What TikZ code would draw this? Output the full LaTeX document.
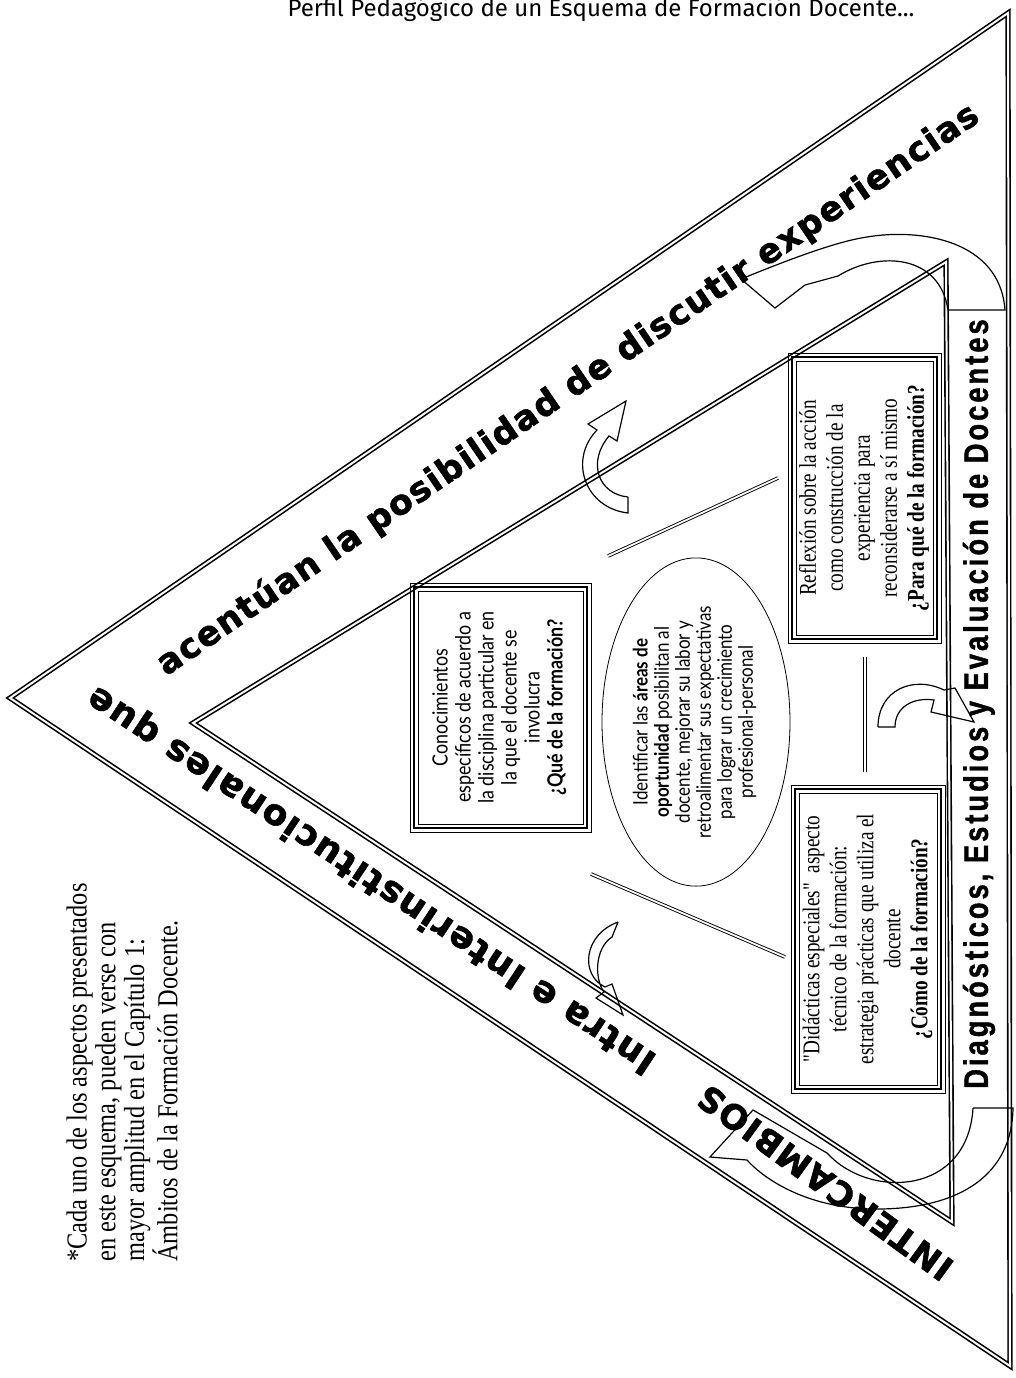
\documentclass[tikz,border=0pt]{standalone}
\usepackage{fontspec}
\setmainfont{Liberation Serif}
\newfontfamily\bandfont[LetterSpace=4,BoldFeatures={FakeBold=1.6}]{DejaVu Sans}
\newfontfamily\rbandfont[FakeStretch=0.8,LetterSpace=9,BoldFeatures={FakeBold=1.2}]{Liberation Sans}
\newfontfamily\twfont[FakeStretch=0.85]{Lato}
\newfontfamily\narrowserif[FakeStretch=0.8]{Liberation Serif}
\newfontfamily\notefont[FakeStretch=0.84]{Liberation Serif}
\newfontfamily\headfont{Fira Sans}
\usetikzlibrary{shapes.geometric,calc}
\newcommand\tripleframe[1]{%
  \draw[line width=0.35pt] (#1.south west) rectangle (#1.north east);
  \draw[line width=1.3pt] ($(#1.south west)+(4,-4)$) rectangle ($(#1.north east)+(-4,4)$);
  \draw[line width=0.35pt] ($(#1.south west)+(8,-8)$) rectangle ($(#1.north east)+(-8,8)$);}
\tikzset{
  bandline/.style={line width=0.8pt, double, double distance=1pt, line join=miter},
  pairline/.style={line width=0.45pt, double, double distance=0.9pt},
  blockarrow/.style={line width=0.6pt, line join=miter},
  infobox/.style={inner sep=0pt, outer sep=0pt},
  topbandtext/.style={font=\bandfont\bfseries\fontsize{17.2}{20}\selectfont},
  botbandtext/.style={font=\bandfont\bfseries\fontsize{18}{20}\selectfont},
  interctext/.style={font=\bandfont\bfseries\fontsize{17}{20}\selectfont},
  rightbandtext/.style={font=\rbandfont\bfseries\fontsize{17}{20}\selectfont},
}
\begin{document}
\begin{tikzpicture}[x=0.5pt,y=-0.5pt]
\useasboundingbox (0,0) rectangle (1016,1378);

% header
\node[font=\headfont\fontsize{12}{14}\selectfont, anchor=base] (header) at (601,16)
  {Perfil Pedagógico de un Esquema de Formación Docente...};

% outer and inner triangles
\coordinate (A) at (10,698);
\coordinate (B) at (1008,13);
\coordinate (C) at (1010,1366);
\coordinate (D) at (193,723);
\coordinate (E) at (946,262);
\coordinate (F) at (952,1222);
\draw[bandline] (A) -- (B) -- (C) -- cycle;
\draw[bandline] (D) -- (E) -- (F) -- cycle;

% band texts
\node[topbandtext, rotate=34.3] (topband) at (568,390)
  {acentúan la posibilidad de discutir experiencias};
\node[botbandtext, rotate=146.6] (botband) at (372,879)
  {Intra e Interinstitucionales que};
\node[interctext, rotate=144] (intercambios) at (825,1183) {INTERCAMBIOS};
\node[rightbandtext, rotate=90] (rightband) at (979,704)
  {Diagnósticos, Estudios y Evaluación de Docentes};

% boxes
\node[infobox, minimum width=90.5pt, minimum height=124.5pt] (box1) at (500.5,707.5)
  {\rotatebox{90}{\twfont\fontsize{10.5}{11.5}\selectfont
   \begin{tabular}{@{}c@{}}Conocimientos\\ específicos de acuerdo a\\ la disciplina particular en\\
   la que el docente se\\ involucra\\ \textbf{¿Qué de la formación?}\end{tabular}}};
\tripleframe{box1}

\node[infobox, minimum width=77pt, minimum height=154pt] (box2) at (868,939)
  {\rotatebox{90}{\narrowserif\fontsize{12}{13.5}\selectfont
   \begin{tabular}{@{}c@{}}"Didácticas especiales"\ \ aspecto\\ técnico de la formación:\\
   estrategia prácticas que utiliza el\\ docente\\ \textbf{¿Cómo de la formación?}\end{tabular}}};
\tripleframe{box2}

\node[infobox, minimum width=76.5pt, minimum height=145pt] (box3) at (864.5,498)
  {\rotatebox{90}{\narrowserif\fontsize{12}{13.5}\selectfont
   \begin{tabular}{@{}c@{}}Reflexión sobre la acción\\ como construcción de la\\
   experiencia para\\ reconsiderarse a sí mismo\\ \textbf{¿Para qué de la formación?}\end{tabular}}};
\tripleframe{box3}

\node[ellipse, draw, line width=0.4pt, inner sep=0pt, minimum width=94pt, minimum height=155pt] (ell) at (696,722)
  {\rotatebox{90}{\twfont\fontsize{10}{10.5}\selectfont
   \begin{tabular}{@{}c@{}}Identificar las \textbf{áreas de}\\ \textbf{oportunidad} posibilitan al\\
   docente, mejorar su labor y\\ retroalimentar sus expectativas\\ para lograr un crecimiento\\
   profesional-personal\end{tabular}}};

% short double lines
\coordinate (l1a) at (608,556); \coordinate (l1b) at (778,478);
\coordinate (l2a) at (591,874); \coordinate (l2b) at (785,957);
\coordinate (l3a) at (865,657); \coordinate (l3b) at (865,772);
\draw[pairline] (l1a) -- (l1b);
\draw[pairline] (l2a) -- (l2b);
\draw[pairline] (l3a) -- (l3b);

% small curved arrows
\draw[blockarrow] (628,497) -- (628,513) .. controls (585,508) and (568,460) .. (597,430)
  -- (588,424) -- (626,401) -- (617,441) -- (609,436)
  .. controls (587,462) and (598,494) .. (628,497);
\draw[blockarrow] (618,922) -- (612,937) .. controls (595,948) and (594,978) .. (604,992)
  -- (596,998) -- (623,1015) -- (612,984) -- (605,987)
  .. controls (580,975) and (583,935) .. (618,922);
\draw[blockarrow] (878,727) -- (895,727) .. controls (895,707) and (913,697) .. (934,700)
  -- (931,712) -- (974,722) -- (955,688) -- (944,690)
  .. controls (913,675) and (878,690) .. (878,727);

% big curved arrows
\draw[blockarrow] (948,310) -- (1005,310)
  .. controls (1000,240) and (920,228) .. (867,237)
  .. controls (840,241) and (800,255) .. (741,279)
  -- (775,308) -- (805,285) -- (838,276)
  .. controls (880,250) and (940,255) .. (948,310);
\draw[blockarrow] (973,1108) -- (1013,1108)
  .. controls (1012,1175) and (960,1208) .. (880,1209)
  .. controls (810,1210) and (765,1180) .. (747,1160)
  -- (710,1157) -- (753,1110) -- (827,1153)
  .. controls (870,1200) and (968,1195) .. (973,1108);

% footnote
\node[font=\notefont\fontsize{14.5}{14.4}\selectfont, rotate=90, anchor=north west,
  align=left, inner sep=0pt] (note) at (66,1262)
  {*Cada uno de los aspectos presentados\\ en este esquema, pueden verse con\\
   mayor amplitud en el Capítulo 1:\\ Ámbitos de la Formación Docente.};
\end{tikzpicture}
\end{document}
